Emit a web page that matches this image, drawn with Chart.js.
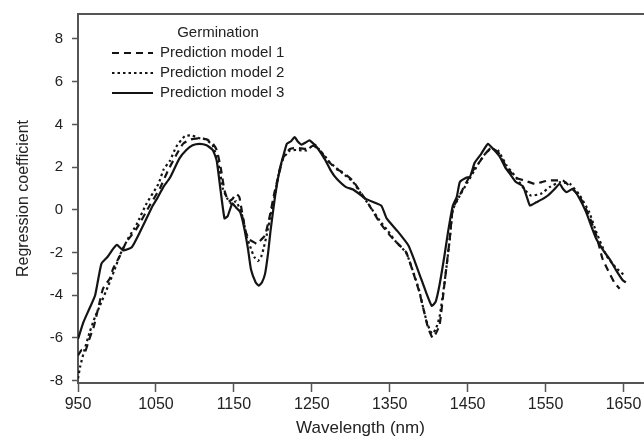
<!DOCTYPE html>
<html>
<head>
<meta charset="utf-8">
<script src="https://cdn.jsdelivr.net/npm/chart.js@4.4.1/dist/chart.umd.min.js"></script>
<style>
  body { margin: 0; background: #fff; }
  #myChart { display: block; }
</style>
</head>
<body>
<canvas id="myChart" width="644" height="439"></canvas>
<script>
// valores (coeficientes de regresion)
const model1Wl = [950, 955, 959, 964, 970, 976, 982, 991, 995, 1004, 1012, 1025, 1042, 1055, 1065, 1075, 1085, 1095, 1105, 1115, 1123, 1128, 1133, 1138, 1143, 1148, 1153, 1157, 1160, 1165, 1170, 1175, 1180, 1185, 1190, 1196, 1202, 1208, 1214, 1222, 1232, 1243, 1252, 1260, 1266, 1273, 1282, 1290, 1303, 1314, 1324, 1337, 1348, 1358, 1371, 1380, 1388, 1393, 1399, 1405, 1409, 1414, 1420, 1427, 1431, 1440, 1450, 1458, 1465, 1472, 1480, 1489, 1500, 1512, 1523, 1536, 1545, 1553, 1572, 1581, 1594, 1606, 1615, 1623, 1628, 1638, 1645];
const model1Val = [-6.82, -6.55, -6.66, -6.1, -5.5, -4.6, -3.7, -3.2, -2.76, -2.14, -1.51, -0.89, 0.2, 1.0, 1.8, 2.5, 3.1, 3.3, 3.35, 3.3, 3.1, 2.8, 2.0, 0.9, 0.4, 0.5, 0.75, 0.6, 0.0, -1.0, -1.4, -1.5, -1.6, -1.4, -1.2, -0.3, 0.8, 1.7, 2.5, 2.85, 2.9, 2.85, 3.0, 2.8, 2.5, 2.2, 1.9, 1.75, 1.35, 0.75, 0.2, -0.58, -1.1, -1.5, -1.98, -2.92, -3.85, -4.6, -5.5, -6.0, -5.8, -5.4, -3.54, -1.36, 0.05, 0.7, 1.4, 1.9, 2.23, 2.6, 2.9, 2.7, 2.0, 1.5, 1.37, 1.22, 1.3, 1.37, 1.37, 1.1, 0.6, -0.3, -1.2, -2.29, -2.68, -3.39, -3.7];

const model2Wl = [950, 953, 958, 965, 972, 978, 989, 997, 1004, 1014, 1025, 1038, 1053, 1060, 1068, 1076, 1087, 1096, 1106, 1114, 1123, 1130, 1136, 1142, 1147, 1153, 1158, 1162, 1166, 1172, 1176, 1181, 1185, 1188, 1192, 1198, 1203, 1207, 1213, 1222, 1232, 1243, 1249, 1254, 1259, 1265, 1273, 1280, 1290, 1303, 1314, 1324, 1337, 1348, 1358, 1371, 1380, 1388, 1393, 1398, 1404, 1409, 1414, 1420, 1427, 1431, 1440, 1450, 1458, 1465, 1472, 1480, 1489, 1500, 1512, 1522, 1531, 1544, 1555, 1568, 1581, 1594, 1606, 1615, 1628, 1640, 1652];
const model2Val = [-7.9, -7.3, -6.6, -5.73, -5.0, -4.5, -3.54, -2.8, -2.1, -1.36, -0.7, 0.3, 1.2, 1.9, 2.3, 2.95, 3.45, 3.48, 3.35, 3.3, 3.0, 2.2, 0.98, 0.5, 0.28, 0.4, 0.0, -0.42, -1.2, -1.83, -2.2, -2.4, -2.2, -1.83, -1.2, -0.11, 0.8, 1.6, 2.39, 2.78, 2.8, 2.78, 2.95, 3.05, 2.85, 2.6, 2.23, 2.0, 1.7, 1.3, 0.7, 0.2, -0.5, -1.0, -1.5, -2.0, -2.9, -3.8, -4.6, -5.3, -5.8, -5.6, -5.0, -3.5, -1.4, 0.0, 0.67, 1.3, 1.8, 2.23, 2.6, 2.86, 2.78, 2.07, 1.53, 1.0, 0.67, 0.75, 1.06, 1.29, 1.22, 0.67, -0.11, -1.04, -2.14, -2.7, -3.1];

const model3Wl = [950, 957, 965, 972, 980, 988, 995, 1000, 1008, 1019, 1030, 1046, 1051, 1060, 1068, 1080, 1089, 1097, 1106, 1115, 1123, 1128, 1133, 1138, 1142, 1148, 1153, 1158, 1163, 1168, 1172, 1178, 1182, 1186, 1190, 1194, 1197, 1203, 1209, 1214, 1218, 1223, 1228, 1232, 1237, 1242, 1247, 1252, 1258, 1267, 1275, 1282, 1294, 1303, 1320, 1339, 1346, 1360, 1374, 1382, 1389, 1397, 1404, 1409, 1414, 1420, 1425, 1431, 1436, 1440, 1448, 1453, 1459, 1467, 1476, 1484, 1491, 1498, 1504, 1512, 1521, 1526, 1530, 1538, 1546, 1553, 1561, 1568, 1572, 1577, 1585, 1594, 1602, 1609, 1615, 1624, 1632, 1640, 1649, 1653];
const model3Val = [-6.05, -5.26, -4.6, -4.0, -2.53, -2.2, -1.83, -1.64, -1.9, -1.75, -1.0, 0.2, 0.5, 1.1, 1.5, 2.4, 2.8, 3.02, 3.09, 3.02, 2.8, 2.3, 0.9, -0.4, -0.3, 0.3, 0.1, -0.1, -0.8, -1.8, -2.8, -3.4, -3.55, -3.4, -3.0, -2.0, -1.0, 0.67, 1.92, 2.6, 3.09, 3.2, 3.4, 3.2, 3.05, 3.15, 3.25, 3.1, 2.86, 2.35, 1.8, 1.45, 1.06, 0.95, 0.5, 0.2, -0.4, -1.0, -1.67, -2.4, -3.1, -3.9, -4.5, -4.3, -3.5, -2.2, -1.0, 0.2, 0.6, 1.3, 1.5, 1.55, 2.2, 2.6, 3.09, 2.8, 2.5, 2.0, 1.7, 1.3, 1.1, 0.6, 0.2, 0.35, 0.5, 0.67, 0.95, 1.22, 1.0, 0.83, 0.98, 0.5, -0.11, -0.8, -1.36, -1.9, -2.3, -2.8, -3.3, -3.4];

const seriesNames = ['Prediction model 1', 'Prediction model 2', 'Prediction model 3'];
const legendTitle = 'Germination';
const xTicks = [950, 1050, 1150, 1250, 1350, 1450, 1550, 1650];
const yTicks = [-8, -6, -4, -2, 0, 2, 4, 6, 8];
const yMinorTicks = [-3];

const ink = '#141414';
const axisGrey = '#555555';
const fontFam = "'Liberation Sans', Arial, sans-serif";

function puntos(wl, val) {
    return wl.map((w, i) => ({ x: w, y: val[i] }));
}

function sinRelleno(scale) {
    scale.paddingTop = 0;
    scale.paddingBottom = 0;
    scale.paddingLeft = 0;
    scale.paddingRight = 0;
}

// leyenda dentro del area del grafico
const leyendaPlugin = {
    id: 'leyenda',
    afterDraw(chart) {
        const ctx = chart.ctx;
        const area = chart.chartArea;
        const x0 = area.left + 34;
        const y0 = area.top + 19;
        ctx.save();
        ctx.fillStyle = '#222';
        ctx.font = `15px ${fontFam}`;
        ctx.textBaseline = 'middle';
        ctx.textAlign = 'center';
        ctx.fillText(legendTitle, x0 + 106, y0);
        ctx.textAlign = 'left';
        chart.data.datasets.forEach((ds, i) => {
            const y = y0 + 20 * (i + 1);
            ctx.strokeStyle = ink;
            ctx.lineWidth = 2;
            ctx.setLineDash(ds.borderDash || []);
            ctx.beginPath();
            ctx.moveTo(x0, y);
            ctx.lineTo(x0 + 41, y);
            ctx.stroke();
            ctx.setLineDash([]);
            ctx.fillText(ds.label, x0 + 48, y);
        });
        // borde superior
        ctx.strokeStyle = axisGrey;
        ctx.lineWidth = 2;
        ctx.beginPath();
        ctx.moveTo(area.left - 1, area.top);
        ctx.lineTo(chart.width, area.top);
        ctx.stroke();
        ctx.restore();
    }
};

const ctx = document.getElementById('myChart');

new Chart(ctx, {
    type: 'line',
    data: {
        datasets: [{
            label: seriesNames[0],
            data: puntos(model1Wl, model1Val),
            borderColor: ink,
            borderWidth: 2.2,
            borderDash: [7, 5],
            pointRadius: 0,
            tension: 0.15,
            fill: false
        }, {
            label: seriesNames[1],
            data: puntos(model2Wl, model2Val),
            borderColor: ink,
            borderWidth: 2.2,
            borderDash: [2.5, 3],
            pointRadius: 0,
            tension: 0.15,
            fill: false
        }, {
            label: seriesNames[2],
            data: puntos(model3Wl, model3Val),
            borderColor: ink,
            borderWidth: 2.2,
            pointRadius: 0,
            tension: 0.15,
            fill: false
        }]
    },
    options: {
        responsive: false,
        animation: false,
        layout: { padding: { top: 14, right: 1, left: 0, bottom: 0 } },
        plugins: {
            legend: { display: false },
            tooltip: { enabled: false }
        },
        scales: {
            x: {
                type: 'linear',
                min: 950,
                max: 1675,
                afterBuildTicks: (scale) => { scale.ticks = xTicks.map(v => ({ value: v })); },
                afterFit: (scale) => { scale.height = 56; sinRelleno(scale); },
                grid: { drawOnChartArea: false, tickLength: 9, tickColor: axisGrey, tickWidth: 1.5 },
                border: { display: true, color: axisGrey, width: 2 },
                ticks: {
                    color: '#222',
                    font: { family: fontFam, size: 16 },
                    padding: 3,
                    maxRotation: 0,
                    callback: (v) => String(v)
                },
                title: {
                    display: true,
                    text: 'Wavelength (nm)',
                    color: '#222',
                    font: { family: fontFam, size: 17 },
                    padding: { top: 0, bottom: 0 }
                }
            },
            y: {
                min: -8.11,
                max: 9.17,
                afterBuildTicks: (scale) => {
                    scale.ticks = yTicks.concat(yMinorTicks).sort((a, b) => a - b).map(v => ({ value: v }));
                },
                afterFit: (scale) => { scale.width = 78; sinRelleno(scale); },
                grid: { drawOnChartArea: false, tickLength: 6, tickColor: axisGrey, tickWidth: 1.5 },
                border: { display: true, color: axisGrey, width: 2 },
                ticks: {
                    color: '#222',
                    font: { family: fontFam, size: 15 },
                    padding: 9,
                    callback: (v) => yMinorTicks.includes(v) ? '' : String(v)
                },
                title: {
                    display: true,
                    text: 'Regression coefficient',
                    color: '#222',
                    font: { family: fontFam, size: 16 },
                    padding: { top: 14, bottom: 0 }
                }
            }
        }
    },
    plugins: [leyendaPlugin]
});
</script>
</body>
</html>
